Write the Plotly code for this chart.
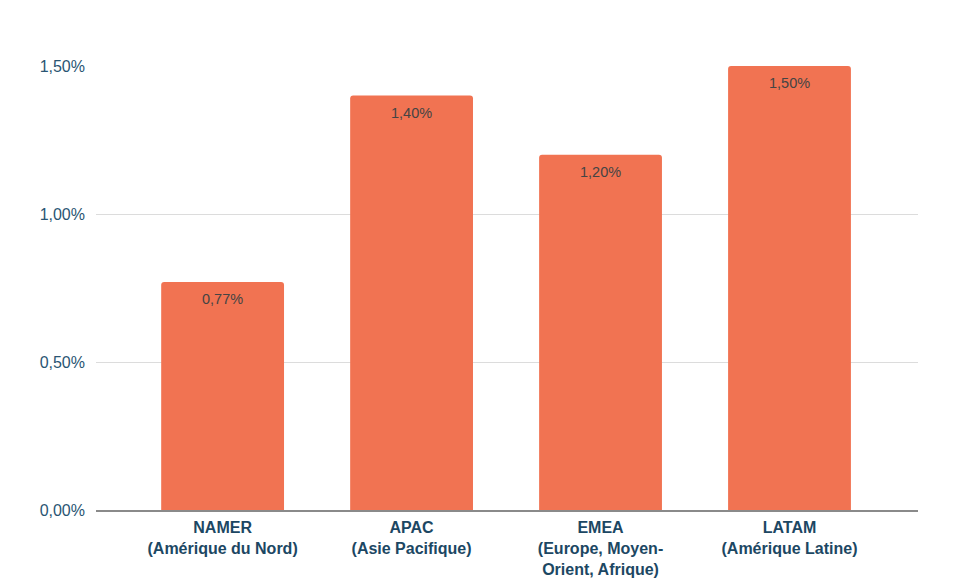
import plotly.graph_objects as go

categories = ["NAMER<br>(Amérique du Nord)", "APAC<br>(Asie Pacifique)",
              "EMEA<br>(Europe, Moyen-<br>Orient, Afrique)", "LATAM<br>(Amérique Latine)"]
values = [0.0077, 0.014, 0.012, 0.015]
labels = ["0,77%", "1,40%", "1,20%", "1,50%"]
tick_vals = [0, 0.005, 0.01, 0.015]
tick_text = ["0,00%", "0,50%", "1,00%", "1,50%"]

xcats = [f"<b>{c}</b>" for c in categories]
fig = go.Figure(go.Bar(
    x=xcats, y=values,
    marker=dict(color="#f17352", line=dict(width=0), cornerradius=3),
    width=0.65, hoverinfo="skip",
))
for xc, v, lab in zip(xcats, values, labels):
    fig.add_annotation(x=xc, y=v, text=lab, showarrow=False, yanchor="middle",
                       yshift=-17, font=dict(family="Liberation Sans, Arial", size=14.5, color="#444444"))
fig.update_layout(
    width=954, height=588, plot_bgcolor="white", paper_bgcolor="white",
    margin=dict(l=96, r=36, t=66, b=78),
    font=dict(family="Liberation Sans, Arial", size=16, color="#1e4a66"),
    showlegend=False,
)
fig.update_xaxes(range=[-0.67, 3.68], showline=True, linecolor="#8a8a8a", linewidth=2,
                 automargin=False,
                 ticks="", ticklabelstandoff=2, tickfont=dict(size=16, color="#1c4763"))
fig.update_yaxes(range=[0, 0.015], tickvals=tick_vals, ticktext=tick_text,
                 showgrid=True, gridcolor="#dcdcdc", gridwidth=1, zeroline=False,
                 automargin=False,
                 ticks="", ticklabelstandoff=10, tickfont=dict(size=16, color="#2a5573"))
fig.write_html("out.html")
